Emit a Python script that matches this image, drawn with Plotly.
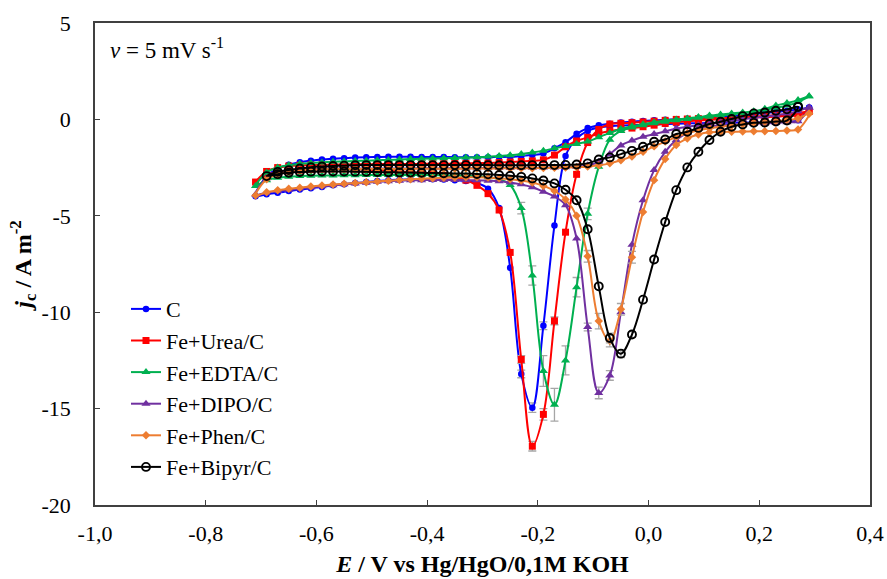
import plotly.graph_objects as go

# Potential grid (V vs Hg/HgO), cathodic sweep order
E = [0.29, 0.27, 0.25, 0.23, 0.21, 0.19, 0.17, 0.15, 0.13, 0.11,
     0.09, 0.07, 0.05, 0.03, 0.01, -0.01, -0.03, -0.05, -0.07, -0.09,
     -0.11, -0.13, -0.15, -0.17, -0.19, -0.21, -0.23, -0.25, -0.27, -0.29,
     -0.31, -0.33, -0.35, -0.37, -0.39, -0.41, -0.43, -0.45, -0.47, -0.49,
     -0.51, -0.53, -0.55, -0.57, -0.59, -0.61, -0.63, -0.65, -0.67, -0.69,
     -0.71]

# j_c (A m^-2): cathodic sweep (FWD) and return sweep (REV), aligned with E
C_FWD = [0.60, -0.05, -0.10, -0.12, -0.14, -0.15, -0.16, -0.17, -0.18, -0.19,
         -0.20, -0.21, -0.22, -0.24, -0.26, -0.28, -0.30, -0.32, -0.36, -0.42,
         -0.60, -1.00, -1.90, -5.50, -10.70, -14.95, -13.20, -7.70, -4.60, -3.60,
         -3.30, -3.20, -3.15, -3.12, -3.10, -3.10, -3.11, -3.13, -3.15, -3.20,
         -3.25, -3.30, -3.36, -3.42, -3.50, -3.57, -3.64, -3.72, -3.80, -3.88,
         -3.98]
C_REV = [0.62, 0.52, 0.45, 0.38, 0.32, 0.27, 0.22, 0.17, 0.13, 0.09,
         0.06, 0.03, 0.00, -0.02, -0.05, -0.08, -0.12, -0.16, -0.22, -0.30,
         -0.45, -0.75, -1.18, -1.50, -1.77, -1.85, -1.90, -1.94, -1.95, -1.96,
         -1.96, -1.96, -1.96, -1.95, -1.95, -1.95, -1.94, -1.94, -1.94, -1.95,
         -1.96, -1.98, -2.01, -2.04, -2.08, -2.14, -2.22, -2.35, -2.55, -2.95,
         None]

UREA_FWD = [0.42, 0.22, 0.17, 0.14, 0.12, 0.10, 0.09, 0.08, 0.07, 0.06,
            0.04, 0.02, 0.00, -0.05, -0.09, -0.13, -0.17, -0.20, -0.24, -0.52,
            -1.20, -2.85, -5.85, -10.45, -15.30, -16.95, -12.45, -6.90, -4.70, -3.85,
            -3.42, -3.15, -3.00, -2.90, -2.83, -2.78, -2.74, -2.70, -2.66, -2.63,
            -2.60, -2.58, -2.57, -2.57, -2.58, -2.60, -2.63, -2.68, -2.75, -2.88,
            -3.25]
UREA_REV = [0.42, 0.32, 0.27, 0.22, 0.18, 0.14, 0.10, 0.06, 0.02, -0.02,
            -0.06, -0.10, -0.15, -0.21, -0.30, -0.38, -0.45, -0.52, -0.60, -0.73,
            -0.93, -1.12, -1.42, -1.85, -2.10, -2.15, -2.18, -2.21, -2.24, -2.26,
            -2.27, -2.28, -2.29, -2.30, -2.30, -2.31, -2.31, -2.32, -2.32, -2.32,
            -2.33, -2.33, -2.34, -2.35, -2.35, -2.36, -2.38, -2.42, -2.50, -2.70,
            None]

EDTA_FWD = [1.20, 0.90, 0.72, 0.60, 0.50, 0.40, 0.32, 0.26, 0.20, 0.14,
            0.08, 0.02, -0.05, -0.12, -0.20, -0.30, -0.42, -0.60, -1.05, -2.46,
            -4.90, -8.70, -12.50, -14.80, -13.05, -8.10, -4.60, -3.40, -3.10, -3.00,
            -2.94, -2.92, -2.91, -2.90, -2.89, -2.89, -2.88, -2.88, -2.88, -2.89,
            -2.89, -2.90, -2.90, -2.91, -2.91, -2.92, -2.94, -2.97, -3.03, -3.15,
            -3.45]
EDTA_REV = [1.20, 1.00, 0.85, 0.72, 0.55, 0.42, 0.36, 0.31, 0.26, 0.20,
            0.12, 0.05, 0.00, -0.06, -0.15, -0.25, -0.36, -0.50, -0.70, -0.92,
            -1.15, -1.27, -1.38, -1.50, -1.62, -1.72, -1.80, -1.86, -1.90, -1.93,
            -1.96, -1.98, -2.00, -2.02, -2.03, -2.04, -2.06, -2.08, -2.10, -2.12,
            -2.14, -2.16, -2.18, -2.20, -2.23, -2.26, -2.30, -2.38, -2.50, -2.75,
            None]

DIPO_FWD = [0.62, -0.10, -0.15, -0.18, -0.20, -0.22, -0.24, -0.27, -0.30, -0.36,
            -0.46, -0.70, -1.07, -1.68, -2.63, -4.19, -6.50, -10.00, -13.28, -14.19,
            -10.77, -6.18, -4.45, -4.00, -3.75, -3.52, -3.37, -3.27, -3.21, -3.18,
            -3.16, -3.15, -3.14, -3.14, -3.14, -3.15, -3.16, -3.18, -3.21, -3.24,
            -3.28, -3.32, -3.37, -3.42, -3.47, -3.53, -3.59, -3.65, -3.72, -3.80,
            -3.90]
DIPO_REV = [0.62, 0.42, 0.30, 0.22, 0.15, 0.08, 0.00, -0.08, -0.15, -0.22,
            -0.30, -0.38, -0.47, -0.62, -0.76, -0.90, -1.10, -1.35, -1.80, -2.20,
            -2.38, -2.45, -2.48, -2.49, -2.50, -2.51, -2.51, -2.52, -2.52, -2.52,
            -2.53, -2.53, -2.53, -2.54, -2.54, -2.54, -2.54, -2.55, -2.55, -2.55,
            -2.55, -2.55, -2.55, -2.55, -2.56, -2.58, -2.62, -2.68, -2.80, -3.05,
            None]

PHEN_FWD = [0.30, -0.52, -0.58, -0.60, -0.61, -0.62, -0.63, -0.64, -0.65, -0.67,
            -0.78, -0.99, -1.33, -2.05, -3.15, -4.80, -7.15, -9.85, -11.50, -10.46,
            -7.10, -5.00, -4.15, -3.70, -3.45, -3.28, -3.17, -3.10, -3.05, -3.02,
            -3.00, -3.00, -3.01, -3.03, -3.05, -3.08, -3.11, -3.14, -3.18, -3.22,
            -3.26, -3.30, -3.34, -3.38, -3.43, -3.48, -3.54, -3.60, -3.68, -3.78,
            -3.95]
PHEN_REV = [0.30, 0.05, -0.03, -0.09, -0.14, -0.19, -0.25, -0.31, -0.38, -0.46,
            -0.57, -0.72, -0.92, -1.15, -1.40, -1.68, -1.92, -2.12, -2.28, -2.38,
            -2.45, -2.48, -2.50, -2.51, -2.52, -2.53, -2.53, -2.54, -2.54, -2.55,
            -2.55, -2.55, -2.56, -2.56, -2.56, -2.56, -2.57, -2.57, -2.57, -2.57,
            -2.57, -2.57, -2.57, -2.57, -2.58, -2.61, -2.65, -2.72, -2.85, -3.10,
            None]

BIPYR_FWD = [None, 0.65, -0.06, -0.11, -0.16, -0.18, -0.26, -0.38, -0.64, -1.07,
             -1.68, -2.49, -3.67, -5.32, -7.27, -9.35, -11.16, -12.15, -11.34, -8.66,
             -5.70, -4.19, -3.65, -3.32, -3.17, -3.06, -2.98, -2.92, -2.88, -2.85,
             -2.83, -2.81, -2.80, -2.79, -2.78, -2.77, -2.76, -2.75, -2.74, -2.73,
             -2.72, -2.71, -2.70, -2.70, -2.70, -2.71, -2.73, -2.77, -2.84, -2.94,
             None]
BIPYR_REV = [None, 0.65, 0.52, 0.45, 0.36, 0.31, 0.17, 0.02, -0.12, -0.24,
             -0.44, -0.64, -0.76, -1.04, -1.16, -1.42, -1.63, -1.80, -1.97, -2.08,
             -2.28, -2.34, -2.36, -2.37, -2.37, -2.37, -2.38, -2.38, -2.38, -2.37,
             -2.37, -2.37, -2.37, -2.37, -2.37, -2.37, -2.37, -2.37, -2.37, -2.37,
             -2.37, -2.38, -2.40, -2.42, -2.44, -2.48, -2.55, -2.63, -2.72, None,
             None]

# Error bars (standard deviation) on cathodic-sweep points, keyed by E
ERR_C = {-0.21: 0.25, -0.23: 0.20, -0.19: 0.20}
ERR_UREA = {-0.21: 0.25, -0.19: 0.30, -0.23: 0.20, -0.17: 0.20}
ERR_EDTA = {-0.23: 0.30, -0.21: 0.50, -0.19: 0.80, -0.17: 0.85, -0.15: 0.75, -0.13: 0.50, -0.11: 0.30}
ERR_DIPO = {-0.11: 0.20, -0.09: 0.30, -0.07: 0.25}
ERR_PHEN = {-0.11: 0.30, -0.09: 0.40, -0.07: 0.30, -0.05: 0.30, -0.03: 0.30}
ERR_BIPYR = {-0.07: 0.25, -0.05: 0.20, -0.03: 0.15}

NAMES = ["C", "Fe+Urea/C", "Fe+EDTA/C", "Fe+DIPO/C", "Fe+Phen/C", "Fe+Bipyr/C"]
COLORS = ["#0000FF", "#FF0000", "#00B050", "#7030A0", "#ED7D31", "#000000"]

X_TICKS = [-1.0, -0.8, -0.6, -0.4, -0.2, 0.0, 0.2, 0.4]
X_TICK_LABELS = ["-1,0", "-0,8", "-0,6", "-0,4", "-0,2", "0,0", "0,2", "0,4"]
Y_TICKS = [5, 0, -5, -10, -15, -20]
Y_TICK_LABELS = ["5", "0", "-5", "-10", "-15", "-20"]

SERIES = [
    (NAMES[0], C_FWD, C_REV, ERR_C, COLORS[0], dict(symbol="circle", size=6.5)),
    (NAMES[1], UREA_FWD, UREA_REV, ERR_UREA, COLORS[1], dict(symbol="square", size=7)),
    (NAMES[2], EDTA_FWD, EDTA_REV, ERR_EDTA, COLORS[2], dict(symbol="triangle-up", size=8)),
    (NAMES[3], DIPO_FWD, DIPO_REV, ERR_DIPO, COLORS[3], dict(symbol="triangle-up", size=8)),
    (NAMES[4], PHEN_FWD, PHEN_REV, ERR_PHEN, COLORS[4], dict(symbol="diamond", size=6.5)),
    (NAMES[5], BIPYR_FWD, BIPYR_REV, ERR_BIPYR, COLORS[5],
     dict(symbol="circle-open", size=8, line=dict(width=1.9))),
]

fig = go.Figure()
for name, fwd, rev, err, color, mk in SERIES:
    xs, ys = [], []
    for e, v in zip(E, fwd):
        if v is not None:
            xs.append(e)
            ys.append(v)
    for e, v in zip(reversed(E), reversed(rev)):
        if v is not None:
            xs.append(e)
            ys.append(v)
    ex = list(err.keys())
    ey = [fwd[E.index(k)] for k in ex]
    fig.add_trace(go.Scatter(
        x=ex, y=ey, mode="markers",
        marker=dict(size=2, color="rgba(0,0,0,0)"),
        error_y=dict(type="data", array=list(err.values()), color="#A6A6A6",
                     thickness=1.3, width=4),
        showlegend=False, hoverinfo="skip"))
    fig.add_trace(go.Scatter(
        x=xs, y=ys, mode="lines+markers", name=name,
        line=dict(color=color, width=2, shape="spline"),
        marker=dict(color=color, **mk)))

axis_common = dict(
    ticks="inside", ticklen=5, tickwidth=1.3, tickcolor="#404040",
    showline=True, linecolor="#404040", linewidth=1.5, mirror=True,
    showgrid=False, zeroline=False, automargin=False,
    tickfont=dict(family="Liberation Serif", size=22, color="black"),
)

fig.update_layout(
    width=887, height=579,
    margin=dict(l=95, r=17, t=23, b=74),
    paper_bgcolor="white", plot_bgcolor="white",
    font=dict(family="Liberation Serif", size=22, color="black"),
    legend=dict(x=0.04, y=0.45, xanchor="left", yanchor="top",
                bgcolor="rgba(0,0,0,0)", font=dict(size=22)),
    xaxis=dict(range=[-1.0, 0.4], tickvals=X_TICKS, ticktext=X_TICK_LABELS,
               ticklabelstandoff=8,
               title=dict(text="<b><i>E</i> / V vs Hg/HgO/0,1M KOH</b>",
                          font=dict(size=24), standoff=10),
               **axis_common),
    yaxis=dict(range=[-20, 5], tickvals=Y_TICKS, ticktext=Y_TICK_LABELS,
               ticklabelstandoff=18,
               title=dict(text="<b><i>j</i><sub>c</sub> / A m<sup>-2</sup></b>",
                          font=dict(size=24), standoff=3),
               **axis_common),
    annotations=[dict(text="<i>v</i> = 5 mV s<sup>-1</sup>", xref="paper", yref="paper",
                      x=0.017, y=0.948, xanchor="left", yanchor="middle",
                      showarrow=False, font=dict(size=23))],
)

fig.write_html("out.html")
